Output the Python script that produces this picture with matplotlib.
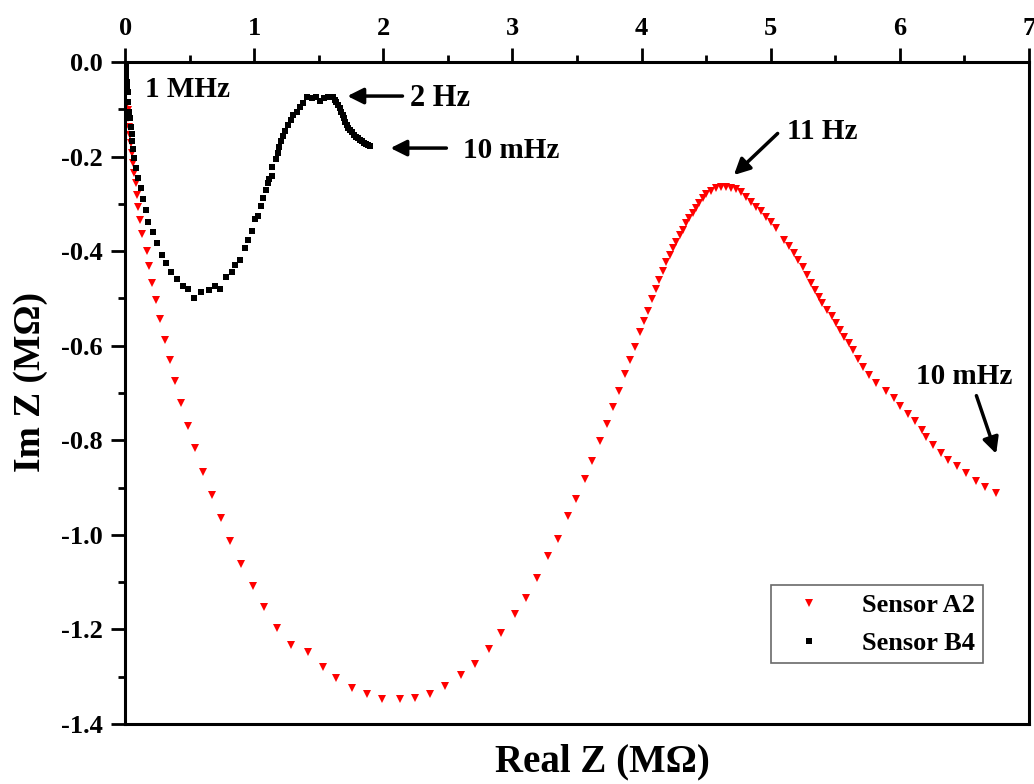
import numpy as np
import matplotlib
matplotlib.use("Agg")
import matplotlib.pyplot as plt

plt.rcParams['font.family'] = ['Liberation Serif', 'DejaVu Serif']
plt.rcParams['font.weight'] = 'bold'
plt.rcParams['axes.unicode_minus'] = False

# Sensor A2 (red triangles)
a2_re = [0.005, 0.021, 0.026, 0.031, 0.039, 0.046, 0.056, 0.064, 0.072, 0.083, 0.090, 0.103, 0.116,
         0.134, 0.168, 0.186, 0.211, 0.242, 0.271, 0.307, 0.348, 0.389, 0.435, 0.487, 0.544, 0.603,
         0.671, 0.740, 0.816, 0.899, 0.988, 1.079, 1.177, 1.282, 1.415, 1.529, 1.637, 1.756, 1.874,
         1.993, 2.129, 2.243, 2.359, 2.480, 2.599, 2.709, 2.818, 2.913, 3.022, 3.107, 3.193, 3.279,
         3.351, 3.431, 3.490, 3.559, 3.619, 3.679, 3.730, 3.780, 3.823, 3.870, 3.908, 3.947, 3.991,
         4.019, 4.050, 4.080, 4.109, 4.138, 4.163, 4.192, 4.220, 4.246, 4.267, 4.298, 4.318, 4.344,
         4.370, 4.395, 4.422, 4.447, 4.473, 4.499, 4.538, 4.576, 4.615, 4.654, 4.692, 4.731, 4.770,
         4.808, 4.847, 4.885, 4.924, 4.963, 5.001, 5.040, 5.104, 5.143, 5.182, 5.215, 5.247, 5.278,
         5.311, 5.344, 5.375, 5.401, 5.439, 5.473, 5.504, 5.538, 5.571, 5.607, 5.640, 5.677, 5.718,
         5.762, 5.818, 5.896, 5.955, 5.999, 6.066, 6.118, 6.169, 6.200, 6.257, 6.319, 6.375, 6.445,
         6.514, 6.592, 6.664, 6.746]
a2_im = [-0.094, -0.101, -0.119, -0.137, -0.154, -0.171, -0.192, -0.213, -0.234, -0.256, -0.281, -0.306,
         -0.335, -0.364, -0.399, -0.431, -0.468, -0.504, -0.543, -0.588, -0.630, -0.675, -0.722, -0.769,
         -0.817, -0.866, -0.915, -0.965, -1.013, -1.062, -1.108, -1.152, -1.196, -1.233, -1.247, -1.279,
         -1.302, -1.323, -1.337, -1.347, -1.347, -1.345, -1.336, -1.319, -1.296, -1.273, -1.241, -1.208,
         -1.167, -1.133, -1.092, -1.044, -1.008, -0.961, -0.924, -0.882, -0.843, -0.801, -0.765, -0.729,
         -0.696, -0.659, -0.630, -0.603, -0.571, -0.547, -0.526, -0.502, -0.480, -0.461, -0.442, -0.423,
         -0.408, -0.394, -0.380, -0.366, -0.355, -0.341, -0.330, -0.320, -0.309, -0.299, -0.288, -0.279,
         -0.272, -0.267, -0.265, -0.265, -0.266, -0.269, -0.275, -0.285, -0.295, -0.306, -0.316, -0.327,
         -0.338, -0.352, -0.376, -0.390, -0.404, -0.419, -0.433, -0.450, -0.468, -0.482, -0.496, -0.510,
         -0.524, -0.538, -0.552, -0.567, -0.581, -0.595, -0.610, -0.629, -0.645, -0.662, -0.678, -0.695,
         -0.711, -0.727, -0.744, -0.760, -0.778, -0.792, -0.810, -0.826, -0.841, -0.854, -0.869, -0.886,
         -0.899, -0.912]

# Sensor B4 (black squares)
b4_re = [0.004, 0.006, 0.008, 0.010, 0.012, 0.015, 0.019, 0.023, 0.031, 0.039, 0.046, 0.052, 0.056,
         0.064, 0.072, 0.083, 0.103, 0.124, 0.142, 0.160, 0.180, 0.214, 0.245, 0.284, 0.317, 0.356,
         0.400, 0.451, 0.490, 0.536, 0.588, 0.650, 0.696, 0.735, 0.781, 0.825, 0.851, 0.888, 0.928,
         0.954, 0.986, 1.003, 1.033, 1.050, 1.070, 1.093, 1.104, 1.116, 1.141, 1.141, 1.168, 1.182,
         1.195, 1.205, 1.220, 1.241, 1.263, 1.282, 1.299, 1.328, 1.353, 1.379, 1.405, 1.444, 1.477,
         1.508, 1.539, 1.572, 1.599, 1.612, 1.624, 1.637, 1.650, 1.663, 1.676, 1.685, 1.694, 1.705,
         1.715, 1.727, 1.740, 1.755, 1.771, 1.787, 1.804, 1.821, 1.838, 1.853, 1.869, 1.882, 1.895]
b4_im = [0.000, -0.010, -0.021, -0.032, -0.042, -0.053, -0.063, -0.085, -0.105, -0.119, -0.137, -0.152,
         -0.168, -0.185, -0.204, -0.225, -0.246, -0.267, -0.290, -0.314, -0.338, -0.360, -0.382, -0.408,
         -0.426, -0.445, -0.459, -0.474, -0.481, -0.500, -0.486, -0.482, -0.474, -0.481, -0.454, -0.444,
         -0.429, -0.419, -0.393, -0.376, -0.357, -0.331, -0.326, -0.304, -0.287, -0.271, -0.256, -0.247,
         -0.241, -0.221, -0.205, -0.193, -0.180, -0.166, -0.156, -0.145, -0.133, -0.123, -0.112, -0.105,
         -0.095, -0.087, -0.075, -0.077, -0.073, -0.082, -0.077, -0.073, -0.073, -0.075, -0.080, -0.085,
         -0.091, -0.098, -0.105, -0.112, -0.119, -0.126, -0.133, -0.139, -0.144, -0.149, -0.154, -0.158,
         -0.161, -0.165, -0.168, -0.171, -0.173, -0.176, -0.178]

x_ticks = [0, 1, 2, 3, 4, 5, 6, 7]
y_ticks = [-1.4, -1.2, -1.0, -0.8, -0.6, -0.4, -0.2, 0.0]
y_labels = ['-1.4', '-1.2', '-1.0', '-0.8', '-0.6', '-0.4', '-0.2', '0.0']

fig = plt.figure(figsize=(10.34, 7.84), dpi=100)
ax = fig.add_axes([0.121, 0.0765, 0.874, 0.8444])

ax.plot(a2_re, a2_im, linestyle='none', marker='v', color='#ff0000', markersize=5.5,
        markeredgewidth=0, label='Sensor A2')
ax.plot(b4_re, b4_im, linestyle='none', marker='s', color='black', markersize=3.8,
        markeredgewidth=0, label='Sensor B4')

ax.set_xlim(0, 7)
ax.set_ylim(-1.4, 0)
ax.xaxis.tick_top()
ax.set_xticks(x_ticks)
ax.set_xticks(np.arange(0.5, 7, 1.0), minor=True)
ax.set_yticks(y_ticks)
ax.set_yticklabels(y_labels)
ax.set_yticks(np.arange(-1.3, 0, 0.2), minor=True)
ax.tick_params(which='major', direction='out', length=10, width=2, labelsize=19, pad=6)
ax.tick_params(which='minor', direction='out', length=5, width=2)
ax.tick_params(axis='x', which='both', top=True, bottom=False)
ax.tick_params(axis='y', which='both', left=True, right=False)
for sp in ax.spines.values():
    sp.set_linewidth(2.2)

ax.set_xlabel('Real Z (MΩ)', fontsize=28, fontweight='bold')
ax.xaxis.set_label_position('bottom')
ax.xaxis.set_label_coords(0.528, -0.058)
ax.xaxis.label.set_verticalalignment('center')
ax.set_ylabel('Im Z (MΩ)', fontsize=27, fontweight='bold')
ax.yaxis.set_label_coords(-0.105, 0.517)
ax.yaxis.label.set_verticalalignment('center')

arrow = dict(arrowstyle='-|>', color='black', lw=2.5, mutation_scale=24)
ax.text(0.155, -0.059, '1 MHz', fontsize=21, fontweight='bold', va='center')
ax.text(2.204, -0.078, '2 Hz', fontsize=22, fontweight='bold', va='center')
ax.annotate('', xy=(1.70, -0.072), xytext=(2.17, -0.072), arrowprops=arrow)
ax.text(2.614, -0.188, '10 mHz', fontsize=21, fontweight='bold', va='center')
ax.annotate('', xy=(2.034, -0.182), xytext=(2.51, -0.182), arrowprops=arrow)
ax.text(5.128, -0.146, '11 Hz', fontsize=21, fontweight='bold', va='center')
ax.annotate('', xy=(4.70, -0.243), xytext=(5.07, -0.147), arrowprops=arrow)
ax.text(6.123, -0.665, '10 mHz', fontsize=21, fontweight='bold', va='center')
ax.annotate('', xy=(6.754, -0.834), xytext=(6.587, -0.700), arrowprops=arrow)

leg = ax.legend(loc='upper left', bbox_to_anchor=(0.715, 0.21), borderaxespad=0,
                prop={'size': 19, 'weight': 'bold'}, frameon=True, fancybox=False,
                handletextpad=0.9, borderpad=0.32, labelspacing=0.55, handlelength=2.2)
leg.get_frame().set_edgecolor('#444444')
leg.get_frame().set_linewidth(1.2)

fig.savefig('out.png', dpi=100)
